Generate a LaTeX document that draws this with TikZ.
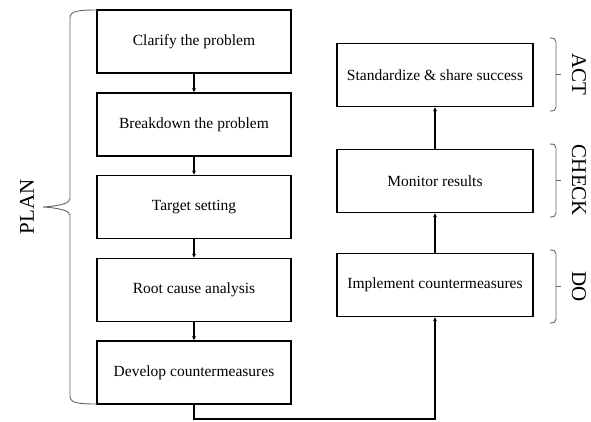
\documentclass[tikz,border=0pt]{standalone}
\usepackage{fontspec}
\setmainfont{Liberation Serif}
\usetikzlibrary{arrows.meta}
\begin{document}
\begin{tikzpicture}[x=1pt,y=-1pt,
  box/.style={draw, line width=1.8pt, rectangle, minimum height=63pt, inner sep=0pt, font=\fontsize{15.5}{18}\selectfont},
  lbox/.style={box, minimum width=194pt},
  rbox/.style={box, minimum width=196pt},
  conn/.style={line width=1.2pt, -{Stealth[length=4pt,width=4pt]}},
  brace/.style={draw=gray!80!black, line width=0.9pt},
  phase/.style={font=\fontsize{21}{24}\selectfont}]
\useasboundingbox (0,0) rectangle (591,421);
\node[lbox] (clar) at (194,41.5) {Clarify the problem};
\node[lbox] (brk) at (194,124.5) {Breakdown the problem};
\node[lbox] (tgt) at (194,207) {Target setting};
\node[lbox] (root) at (194,290) {Root cause analysis};
\node[lbox] (dev) at (194,372.5) {Develop countermeasures};
\node[rbox] (std) at (435,75) {Standardize \& share success};
\node[rbox] (mon) at (435,181) {Monitor results};
\node[rbox] (imp) at (435,285) {Implement countermeasures};
\draw[conn] (clar) -- (brk);
\draw[conn] (brk) -- (tgt);
\draw[conn] (tgt) -- (root);
\draw[conn] (root) -- (dev);
\coordinate (bot) at (0,419);
\draw[conn] (dev.south) -- (dev.south |- bot) -| (imp.south);
\draw[conn] (imp) -- (mon);
\draw[conn] (mon) -- (std);
% PLAN brace
\draw[brace] (97,10) .. controls (78,10) and (70,11) .. (70,18) -- (70,199) .. controls (70,203) and (60,206) .. (43,207)
  .. controls (60,208) and (70,211) .. (70,215) -- (70,396) .. controls (70,403) and (78,404) .. (97,404);
\node[phase, rotate=90] (plan) at (27,207) {PLAN};
% right brackets
\foreach \t/\b/\lab/\nm in {38/111/ACT/act, 144/217/CHECK/chk, 250/323/DO/do}{
  \draw[brace] (550,\t) .. controls (554,\t) and (556,\t+1) .. (556,\t+4) -- (556,\b-4) .. controls (556,\b-1) and (554,\b) .. (550,\b);
  \draw[brace] (556,{(\t+\b)/2}) -- (561,{(\t+\b)/2});
  \node[phase, rotate=-90] (\nm) at (579,{(\t+\b)/2}) {\lab};
}
\end{tikzpicture}
\end{document}
